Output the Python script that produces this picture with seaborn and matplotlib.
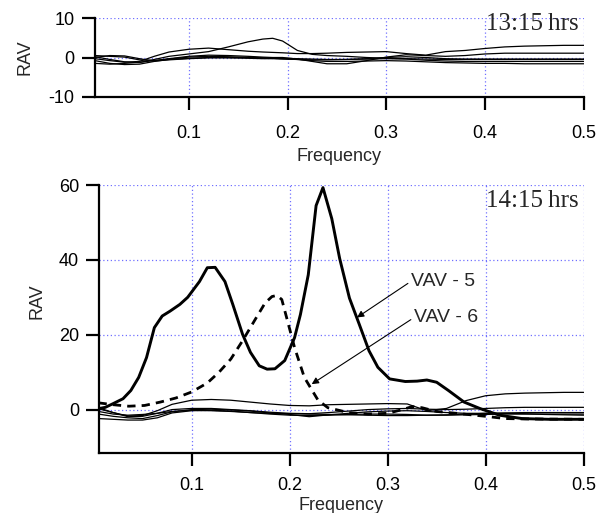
import matplotlib
matplotlib.use('Agg')
import matplotlib.pyplot as plt
import seaborn as sns
import pandas as pd

# ---------------- data ----------------
# 13:15 hrs panel (thin lines)
ft = [0.005, 0.02, 0.035, 0.05, 0.065, 0.08, 0.1, 0.12, 0.14, 0.16, 0.175, 0.185, 0.195, 0.21,
      0.225, 0.24, 0.26, 0.28, 0.3, 0.32, 0.34, 0.36, 0.38, 0.4, 0.42, 0.44, 0.46, 0.48, 0.5]
t1 = [0.2, -0.5, -1.1, -1.3, -0.5, 0.3, 0.9, 1.5, 2.7, 4.0, 4.7, 4.9, 4.2, 1.8,
      0.8, 0.5, 0.3, 0.0, -0.2, -0.3, -0.4, -0.5, -0.5, -0.5, -0.5, -0.5, -0.5, -0.5, -0.5]
t2 = [-0.3, -0.8, -1.2, -1.0, 0.3, 1.4, 2.1, 2.4, 2.0, 1.6, 1.4, 1.3, 1.2, 1.0,
      1.0, 1.1, 1.3, 1.4, 1.5, 1.0, 0.6, 1.5, 1.8, 2.3, 2.7, 2.9, 3.0, 3.1, 3.1]
t3 = [0.5, 0.3, 0.1, -0.6, -0.8, -0.3, 0.3, 0.6, 0.5, 0.3, 0.1, 0.0, 0.0, -0.4,
      -1.0, -1.6, -1.6, -0.8, 0.1, 0.7, 0.5, 0.3, 0.5, 0.9, 1.1, 1.1, 1.1, 1.1, 1.1]
t4 = [-0.8, -1.5, -1.8, -1.7, -1.0, -0.5, -0.2, 0.0, -0.1, -0.2, -0.3, -0.3, -0.4, -0.5,
      -0.6, -0.6, -0.5, -0.4, -0.3, -0.4, -0.7, -0.9, -1.0, -1.0, -1.0, -1.0, -1.0, -1.0, -1.0]
t5 = [-1.5, -1.7, -1.5, -1.2, -0.8, -0.4, 0.1, 0.3, 0.2, 0.0, -0.1, -0.2, -0.3, -0.5,
      -0.8, -1.0, -1.0, -0.9, -0.8, -0.9, -1.1, -1.3, -1.4, -1.5, -1.5, -1.6, -1.6, -1.6, -1.6]
t6 = [0.0, 0.5, 0.4, -0.3, -0.9, -0.6, -0.3, -0.1, 0.0, 0.0, -0.1, -0.1, -0.2, -0.3,
      -0.4, -0.5, -0.5, -0.3, 0.0, 0.2, 0.0, -0.3, -0.4, -0.4, -0.4, -0.4, -0.4, -0.4, -0.4]

# 14:15 hrs panel
x_vav5 = [0.006, 0.012, 0.02, 0.03, 0.038, 0.046, 0.054, 0.062, 0.07, 0.078, 0.088, 0.096,
          0.108, 0.116, 0.124, 0.134, 0.142, 0.152, 0.16, 0.169, 0.177, 0.185, 0.195, 0.205,
          0.211, 0.219, 0.227, 0.234, 0.243, 0.251, 0.261, 0.271, 0.281, 0.29, 0.302, 0.318,
          0.33, 0.34, 0.35, 0.362, 0.378, 0.394, 0.414, 0.437, 0.465, 0.5]
y_vav5 = [0.3, 0.6, 1.6, 2.9, 5.1, 8.6, 13.9, 21.9, 25.0, 26.3, 28.1, 30.0,
          34.2, 37.9, 38.0, 34.2, 28.1, 20.1, 15.3, 11.7, 10.8, 10.9, 13.1, 19.2,
          25.4, 36.0, 54.5, 59.3, 51.0, 40.4, 29.8, 22.8, 15.7, 11.3, 8.2, 7.5,
          7.6, 7.9, 7.3, 5.1, 2.0, 0.3, -1.5, -2.4, -2.6, -2.6]
x_vav6 = [0.005, 0.02, 0.036, 0.052, 0.068, 0.084, 0.1, 0.116, 0.128, 0.14, 0.152, 0.164,
          0.175, 0.182, 0.187, 0.192, 0.197, 0.205, 0.215, 0.223, 0.229, 0.239, 0.26, 0.28,
          0.3, 0.315, 0.325, 0.335, 0.35, 0.37, 0.4, 0.42, 0.44, 0.5]
y_vav6 = [1.8, 1.3, 0.9, 1.1, 2.0, 3.1, 4.7, 7.1, 10.0, 13.5, 18.4, 23.7,
          28.5, 30.2, 30.5, 29.4, 24.5, 16.6, 8.6, 5.1, 2.5, 0.5, -0.8, -1.2,
          -1.0, 0.0, 0.8, 0.5, -0.5, -1.0, -1.8, -2.4, -2.5, -2.6]
fb = [0.005, 0.02, 0.035, 0.05, 0.065, 0.08, 0.1, 0.12, 0.14, 0.16, 0.18, 0.2, 0.22, 0.24,
      0.26, 0.28, 0.3, 0.32, 0.34, 0.36, 0.38, 0.4, 0.42, 0.44, 0.46, 0.48, 0.5]
b1 = [0.5, -0.8, -1.7, -1.6, -0.3, 1.4, 2.5, 2.7, 2.5, 2.0, 1.5, 1.1, 1.0, 1.3,
      1.4, 1.5, 1.6, 1.5, -0.3, 0.3, 2.4, 3.7, 4.2, 4.4, 4.5, 4.6, 4.6]
b2 = [0.2, -0.8, -1.9, -1.8, -1.0, 0.0, 0.3, 0.3, 0.0, -0.3, -0.7, -1.0, -1.1, -0.8,
      -0.4, 0.0, 0.2, 0.3, 0.1, 0.0, 0.1, 0.3, 0.5, 0.6, 0.6, 0.6, 0.6]
b3 = [-2.4, -2.6, -2.8, -2.8, -2.2, -0.9, -0.3, -0.2, -0.4, -0.8, -1.2, -1.5, -1.6, -1.5,
      -1.3, -1.2, -1.2, -1.3, -1.5, -1.5, -1.4, -1.3, -1.2, -1.2, -1.2, -1.2, -1.2]
b4 = [-1.2, -1.8, -2.2, -2.4, -1.6, -0.6, 0.0, 0.1, -0.1, -0.4, -0.9, -1.3, -1.9, -1.4,
      -1.0, -0.6, -0.4, -0.3, -0.5, -0.8, -1.0, -1.0, -0.9, -0.8, -0.8, -0.8, -0.8]
b5 = [-0.5, -1.2, -1.5, -1.3, -1.0, -0.5, -0.2, -0.3, -0.5, -0.8, -1.0, -1.1, -1.2, -1.3,
      -1.4, -1.5, -1.6, -1.6, -1.5, -1.4, -1.2, -1.0, -1.0, -1.1, -1.3, -1.4, -1.5]

x_ticks = [0.1, 0.2, 0.3, 0.4, 0.5]
x_ticklabels = ['0.1', '0.2', '0.3', '0.4', '0.5']
top_yticks = [-10, 0, 10]
bot_yticks = [0, 20, 40, 60]

# ---------------- style ----------------
sns.set_style('white')
plt.rcParams['font.family'] = ['Liberation Sans', 'DejaVu Sans']

FS = 13
GRID = dict(color='#7070ff', linestyle=(0, (1, 2)), linewidth=0.9)

fig = plt.figure(figsize=(6.07, 5.13), dpi=100)
ax1 = fig.add_axes([95 / 607, 1 - 96.7 / 513, 488.7 / 607, 78.4 / 513])
ax2 = fig.add_axes([98.5 / 607, 1 - 453 / 513, 485.2 / 607, 268 / 513])


def style_axes(ax, ticklen, xpad):
    for s in ['top', 'right']:
        ax.spines[s].set_visible(False)
    for s in ['left', 'bottom']:
        ax.spines[s].set_linewidth(1.6)
        ax.spines[s].set_color('black')
    ax.tick_params(axis='both', direction='out', length=ticklen, width=1.6,
                   colors='black', labelsize=FS, left=True, bottom=True)
    ax.tick_params(axis='x', pad=xpad)
    ax.tick_params(axis='y', pad=5)
    ax.grid(True, **GRID)
    ax.set_xticks(x_ticks)
    ax.set_xticklabels(x_ticklabels)


# top panel
df_top = pd.DataFrame({'f': ft * 6,
                       'v': t1 + t2 + t3 + t4 + t5 + t6,
                       's': sum([[k] * len(ft) for k in range(6)], [])})
sns.lineplot(data=df_top, x='f', y='v', units='s', estimator=None, color='black',
             linewidth=0.9, ax=ax1, legend=False)
ax1.set_xlim(0.005, 0.5)
ax1.set_ylim(-10, 10)
ax1.set_yticks(top_yticks)
ax1.set_yticklabels([str(v) for v in top_yticks])
style_axes(ax1, 9.7, 11)
ax1.set_xlabel('Frequency', fontsize=FS)
ax1.set_ylabel('RAV', fontsize=FS)
ax1.xaxis.set_label_coords(0.5, -0.76)
ax1.xaxis.label.set_va('center')
ax1.yaxis.set_label_coords(-0.143, 0.5)
ax1.yaxis.label.set_va('center')
ax1.text(0.99, 0.85, '13:15\u2009hrs', transform=ax1.transAxes, ha='right', va='baseline',
         fontsize=18, family=['Liberation Serif', 'DejaVu Serif'])

# bottom panel
df_thin = pd.DataFrame({'f': fb * 5,
                        'v': b1 + b2 + b3 + b4 + b5,
                        's': sum([[k] * len(fb) for k in range(5)], [])})
sns.lineplot(data=df_thin, x='f', y='v', units='s', estimator=None, color='black',
             linewidth=0.9, ax=ax2, legend=False)
sns.lineplot(x=x_vav6, y=y_vav6, color='black', linewidth=2.0, linestyle=(0, (3, 2.2)),
             ax=ax2, estimator=None)
sns.lineplot(x=x_vav5, y=y_vav5, color='black', linewidth=2.1, ax=ax2, estimator=None)
ax2.set_xlim(0.005, 0.5)
ax2.set_ylim(-11.6, 60)
ax2.set_yticks(bot_yticks)
ax2.set_yticklabels([str(v) for v in bot_yticks])
style_axes(ax2, 9.1, 8)
ax2.set_xlabel('Frequency', fontsize=FS)
ax2.set_ylabel('RAV', fontsize=FS)
ax2.xaxis.set_label_coords(0.5, -0.195)
ax2.xaxis.label.set_va('center')
ax2.yaxis.set_label_coords(-0.126, 0.565)
ax2.yaxis.label.set_va('center')
ax2.text(0.99, 54, '14:15\u2009hrs', transform=ax2.get_yaxis_transform(), ha='right',
         va='baseline', fontsize=18, family=['Liberation Serif', 'DejaVu Serif'])

arrow = dict(arrowstyle='-|>', color='black', lw=0.8, mutation_scale=10,
             shrinkA=0, shrinkB=0, relpos=(0, 0.5))
ax2.annotate('VAV - 5', xy=(0.2687, 24.6), xytext=(0.324, 34.3), ha='left', va='center',
             fontsize=14, arrowprops=arrow)
ax2.annotate('VAV - 6', xy=(0.2225, 6.8), xytext=(0.327, 24.6), ha='left', va='center',
             fontsize=14, arrowprops=arrow)

fig.savefig('out.png', dpi=100)
